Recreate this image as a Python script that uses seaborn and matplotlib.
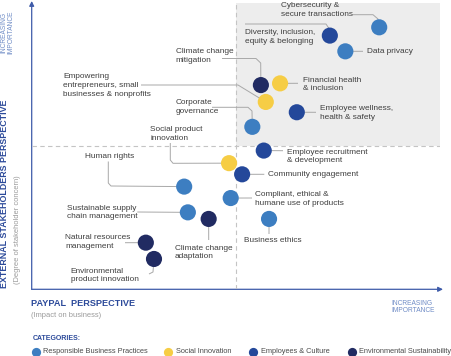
import matplotlib
matplotlib.use("Agg")
import matplotlib.pyplot as plt
from matplotlib.patches import Rectangle
import seaborn as sns
import pandas as pd

# materiality topics (0-100 scale on both axes)
topics = [
    "Cybersecurity & secure transactions",
    "Diversity, inclusion, equity & belonging",
    "Data privacy",
    "Climate change mitigation",
    "Financial health & inclusion",
    "Empowering entrepreneurs, small businesses & nonprofits",
    "Employee wellness, health & safety",
    "Corporate governance",
    "Employee recruitment & development",
    "Social product innovation",
    "Community engagement",
    "Compliant, ethical & humane use of products",
    "Business ethics",
    "Human rights",
    "Sustainable supply chain management",
    "Climate change adaptation",
    "Natural resources management",
    "Environmental product innovation",
]
category = [
    "Responsible Business Practices", "Employees & Culture", "Responsible Business Practices",
    "Environmental Sustainability", "Social Innovation", "Social Innovation",
    "Employees & Culture", "Responsible Business Practices", "Employees & Culture",
    "Social Innovation", "Employees & Culture", "Responsible Business Practices",
    "Responsible Business Practices", "Responsible Business Practices",
    "Responsible Business Practices", "Environmental Sustainability",
    "Environmental Sustainability", "Environmental Sustainability",
]
paypal_impact = [85.1, 73.0, 76.8, 56.1, 60.8, 57.3, 64.9, 54.0, 56.8,
                 48.3, 51.5, 48.7, 58.1, 37.3, 38.2, 43.3, 27.9, 29.9]
stakeholder_concern = [91.5, 88.6, 83.1, 71.3, 71.9, 65.4, 61.8, 56.7, 48.4,
                       44.0, 40.1, 31.8, 24.5, 35.8, 26.8, 24.5, 16.2, 10.5]

categories = ["Responsible Business Practices", "Social Innovation",
              "Employees & Culture", "Environmental Sustainability"]
colors = ["#3D7EC1", "#F6CD45", "#24489A", "#212B62"]

# label layout in pixels: text, left x, centre y, leader waypoints
labels = {
    topics[0]: ("Cybersecurity &\nsecure transactions", 281, 10, [(353, 14.7), (373, 14.7), (378, 19)]),
    topics[1]: ("Diversity, inclusion,\nequity & belonging", 245.3, 37, [(245, 24), (326, 24), (330, 30)]),
    topics[2]: ("Data privacy", 366.7, 51.3, [(363, 51.3)]),
    topics[3]: ("Climate change\nmitigation", 175.7, 56.2, [(222, 58.5), (256, 58.5), (260.7, 63)]),
    topics[4]: ("Financial health\n& inclusion", 303, 84.7, [(298, 83.3)]),
    topics[5]: ("Empowering\nentrepreneurs, small\nbusinesses & nonprofits", 63.3, 85.5,
                [(141, 85), (238, 85)]),
    topics[6]: ("Employee wellness,\nhealth & safety", 320, 112.8, [(316, 112.3)]),
    topics[7]: ("Corporate\ngovernance", 175.7, 107, [(212, 107.3), (248, 107.3), (252, 111)]),
    topics[8]: ("Employee recruitment\n& development", 286.7, 156.3, [(283, 150.7)]),
    topics[9]: ("Social product\ninnovation", 150.3, 134, [(170.3, 143), (170.3, 160), (173, 163.3)]),
    topics[10]: ("Community engagement", 268.3, 174.3, [(264.3, 174.3)]),
    topics[11]: ("Compliant, ethical &\nhumane use of products", 255, 199, [(252, 198)]),
    topics[12]: ("Business ethics", 244.3, 241, [(269, 234)]),
    topics[13]: ("Human rights", 85, 156, [(108.3, 161.5), (108.3, 183), (111, 186)]),
    topics[14]: ("Sustainable supply\nchain management", 66.7, 212.5, [(137.3, 212)]),
    topics[15]: ("Climate change\nadaptation", 174.7, 252.7, [(208.7, 240)]),
    topics[16]: ("Natural resources\nmanagement", 65, 241.8, [(125, 242.7)]),
    topics[17]: ("Environmental\nproduct innovation", 70.7, 275.7, [(149, 274), (153, 272)]),
}

sns.set_theme(style="white")
plt.rcParams["font.family"] = ["Liberation Sans", "DejaVu Sans"]

W, H = 451, 356
X0, X1, Y0, Y1 = 32, 440, 3, 289


def px(x, y):
    # pixel position -> data units of the main axes
    return (x - X0) / (X1 - X0) * 100, (Y1 - y) / (Y1 - Y0) * 100


def fig_xy(x, y):
    return x / W, 1 - y / H


fig = plt.figure(figsize=(W / 100, H / 100), dpi=100)
ax = fig.add_axes([X0 / W, 1 - Y1 / H, (X1 - X0) / W, (Y1 - Y0) / H])

ax.add_patch(Rectangle((50, 50), 50.2, 50, color="#EDEDED", lw=0, zorder=0))
ax.plot([50, 50], [0, 100], color="#C4C4C4", lw=0.8, dashes=(4, 3), zorder=0.5)
ax.plot([0, 100.2], [50, 50], color="#C4C4C4", lw=0.8, dashes=(4, 3), zorder=0.5)

df = pd.DataFrame({"topic": topics, "category": category,
                   "paypal": paypal_impact, "stakeholder": stakeholder_concern})

# leader lines and labels
for t, x, y in zip(topics, paypal_impact, stakeholder_concern):
    text, lx, ly, way = labels[t]
    pts = [px(a, b) for a, b in way] + [(x, y)]
    ax.plot([p[0] for p in pts], [p[1] for p in pts], color="#A8A8A8", lw=0.7,
            zorder=1, clip_on=False, solid_capstyle="butt")
    tx, ty = px(lx, ly)
    ax.text(tx, ty, text, ha="left", va="center", fontsize=5.95, color="#3F3F3F",
            linespacing=1.3, clip_on=False)

sns.scatterplot(data=df, x="paypal", y="stakeholder", hue="category",
                hue_order=categories, palette=colors, s=135, linewidth=0,
                alpha=1, legend=False, ax=ax, zorder=3, clip_on=False)
ax.set_xlim(0, 100)
ax.set_ylim(0, 100)
ax.axis("off")

# axes arrows in figure pixels
lay = fig.add_axes([0, 0, 1, 1], zorder=-1)
lay.set_xlim(0, W)
lay.set_ylim(H, 0)
lay.axis("off")
axis_blue = "#3E5BA9"
lay.annotate("", xy=(443, 289.3), xytext=(31.7, 289.3),
             arrowprops=dict(arrowstyle="-|>", color=axis_blue, lw=0.9, mutation_scale=7,
                             shrinkA=0, shrinkB=0))
lay.annotate("", xy=(31.7, 1), xytext=(31.7, 289.3),
             arrowprops=dict(arrowstyle="-|>", color=axis_blue, lw=0.9, mutation_scale=7,
                             shrinkA=0, shrinkB=0))

title_blue = "#2C4A9A"
fig.text(*fig_xy(7.5, 32), "INCREASING\nIMPORTANCE", rotation=90, ha="center", va="center",
         fontsize=4.8, color="#6F8CC6", linespacing=1.05)
fig.text(*fig_xy(5, 194), "EXTERNAL STAKEHOLDERS PERSPECTIVE", rotation=90, ha="center",
         va="center", fontsize=6.4, fontweight="bold", color=title_blue)
fig.text(*fig_xy(18, 230), "(Degree of stakeholder concern)", rotation=90, ha="center",
         va="center", fontsize=5.4, color="#9A9A9A")

fig.text(*fig_xy(30.7, 304), "PAYPAL  PERSPECTIVE", ha="left", va="center",
         fontsize=6.6, fontweight="bold", color=title_blue)
fig.text(*fig_xy(30.7, 315.5), "(Impact on business)", ha="left", va="center",
         fontsize=5.4, color="#9A9A9A")
fig.text(*fig_xy(391.5, 307), "INCREASING\nIMPORTANCE", ha="left", va="center",
         fontsize=4.8, color="#6F8CC6", linespacing=1.05)

fig.text(*fig_xy(32.3, 339), "CATEGORIES:", ha="left", va="center",
         fontsize=5, fontweight="bold", color=title_blue)
legend_x = [36, 168.3, 253.3, 351.7]
for lx, name, c in zip(legend_x, categories, colors):
    lay.scatter([lx], [351.7], s=44, color=c, linewidth=0)
    fig.text(*fig_xy(lx + 7.3, 351.7), name, ha="left", va="center",
             fontsize=5.3, color="#4A4A4A")

fig.savefig("out.png", dpi=100, facecolor="white")
